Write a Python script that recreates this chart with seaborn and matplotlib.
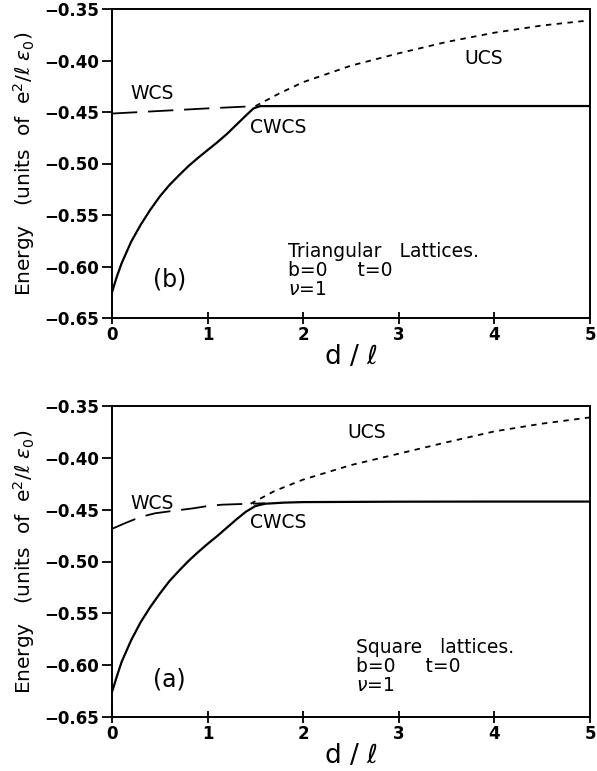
import numpy as np
import pandas as pd
import matplotlib
matplotlib.use("Agg")
import matplotlib.pyplot as plt
import seaborn as sns

# --- Triangular lattices (panel b, top) ---
tri_cwcs_x = [0, 0.05, 0.1, 0.2, 0.3, 0.4, 0.5, 0.6, 0.7, 0.8, 0.9, 1.0, 1.1, 1.2, 1.3,
              1.4, 1.48, 1.55, 2.0, 3.0, 4.0, 5.0]
tri_cwcs_y = [-0.625, -0.610, -0.597, -0.576, -0.5595, -0.545, -0.532, -0.521, -0.5115,
              -0.5025, -0.4945, -0.487, -0.4795, -0.4715, -0.4625, -0.4535, -0.4465,
              -0.4443, -0.4442, -0.4442, -0.4442, -0.4442]
tri_wcs_x = [0, 0.5, 1.0, 1.5]
tri_wcs_y = [-0.4515, -0.449, -0.4465, -0.4443]
tri_ucs_x = [1.5, 1.75, 2.0, 2.5, 3.0, 3.5, 4.0, 4.5, 5.0]
tri_ucs_y = [-0.4443, -0.432, -0.421, -0.405, -0.393, -0.382, -0.373, -0.366, -0.361]

# --- Square lattices (panel a, bottom) ---
sq_cwcs_x = [0, 0.05, 0.1, 0.2, 0.3, 0.4, 0.5, 0.6, 0.7, 0.8, 0.9, 1.0, 1.1, 1.2, 1.3,
             1.4, 1.5, 1.6, 1.8, 2.0, 3.0, 4.0, 5.0]
sq_cwcs_y = [-0.626, -0.611, -0.597, -0.576, -0.5585, -0.544, -0.531, -0.519, -0.509,
             -0.4995, -0.491, -0.483, -0.4755, -0.4675, -0.4595, -0.452, -0.4465,
             -0.4443, -0.4432, -0.4427, -0.4423, -0.4422, -0.4422]
sq_wcs_x = [0, 0.15, 0.3, 0.45, 0.65, 0.85, 1.0, 1.15, 1.3, 1.45, 1.6]
sq_wcs_y = [-0.4685, -0.4625, -0.457, -0.4535, -0.451, -0.4487, -0.4465, -0.4452,
            -0.4447, -0.4443, -0.4438]
sq_ucs_x = [1.45, 1.7, 2.0, 2.5, 3.0, 3.5, 4.0, 4.5, 5.0]
sq_ucs_y = [-0.4443, -0.432, -0.421, -0.407, -0.396, -0.385, -0.3745, -0.367, -0.361]

x_ticks = [0, 1, 2, 3, 4, 5]
y_ticks = [-0.65, -0.60, -0.55, -0.50, -0.45, -0.40, -0.35]

sns.set_theme(style="ticks", rc={"text.color": "black", "axes.labelcolor": "black",
                                 "xtick.color": "black", "ytick.color": "black",
                                 "axes.edgecolor": "black"})
plt.rcParams["font.family"] = ["DejaVu Sans"]

fig = plt.figure(figsize=(5.97, 7.71), dpi=100)
W, H = 597, 771
ax_top = fig.add_axes([112 / W, 1 - 318 / H, 478 / W, 309 / H])
ax_bot = fig.add_axes([112 / W, 1 - 717 / H, 478 / W, 311 / H])


def draw_panel(ax, cx, cy, wx, wy, ux, uy):
    sns.lineplot(x=cx, y=cy, ax=ax, color="black", lw=1.6, sort=False)
    sns.lineplot(x=wx, y=wy, ax=ax, color="black", lw=1.3, sort=False).lines[-1].set_dashes([14, 6])
    sns.lineplot(x=ux, y=uy, ax=ax, color="black", lw=1.3, sort=False).lines[-1].set_dashes([3, 3])
    ax.set_xlim(0, 5)
    ax.set_ylim(-0.65, -0.35)
    ax.set_xticks(x_ticks)
    ax.set_yticks(y_ticks)
    ax.set_xticklabels([str(t) for t in x_ticks], fontsize=12, fontweight="bold")
    ax.set_yticklabels([f"{t:.2f}".replace("-", "\u2212") for t in y_ticks],
                       fontsize=12, fontweight="bold")
    ax.tick_params(axis="x", direction="inout", length=9, width=1.3, pad=1)
    ax.tick_params(axis="y", direction="out", length=7, width=1.3, pad=2)
    for s in ax.spines.values():
        s.set_linewidth(1.4)
    ax.set_xlabel(r"d / $\ell$", fontsize=19, labelpad=0)
    ax.set_ylabel(r"Energy   (units  of  e$^2$/$\ell$ $\varepsilon_0$)", fontsize=14.5)
    ax.yaxis.set_label_coords(-0.157, 0.5)


draw_panel(ax_top, tri_cwcs_x, tri_cwcs_y, tri_wcs_x, tri_wcs_y, tri_ucs_x, tri_ucs_y)
draw_panel(ax_bot, sq_cwcs_x, sq_cwcs_y, sq_wcs_x, sq_wcs_y, sq_ucs_x, sq_ucs_y)

txt = dict(fontsize=13.5, va="center")
ax_top.text(0.19, -0.4316, "WCS", **txt)
ax_top.text(1.44, -0.4655, "CWCS", **txt)
ax_top.text(3.69, -0.3976, "UCS", **txt)
ax_top.text(0.43, -0.613, "(b)", fontsize=17, va="center")
ax_top.text(1.84, -0.585, "Triangular   Lattices.", **txt)
ax_top.text(1.84, -0.6035, "b=0     t=0", **txt)
ax_top.text(1.84, -0.622, r"$\nu$=1", **txt)

ax_bot.text(0.19, -0.4436, "WCS", **txt)
ax_bot.text(1.44, -0.462, "CWCS", **txt)
ax_bot.text(2.46, -0.376, "UCS", **txt)
ax_bot.text(0.43, -0.614, "(a)", fontsize=17, va="center")
ax_bot.text(2.55, -0.5825, "Square   lattices.", **txt)
ax_bot.text(2.55, -0.601, "b=0     t=0", **txt)
ax_bot.text(2.55, -0.6195, r"$\nu$=1", **txt)

fig.savefig("out.png", dpi=100, facecolor="white")
